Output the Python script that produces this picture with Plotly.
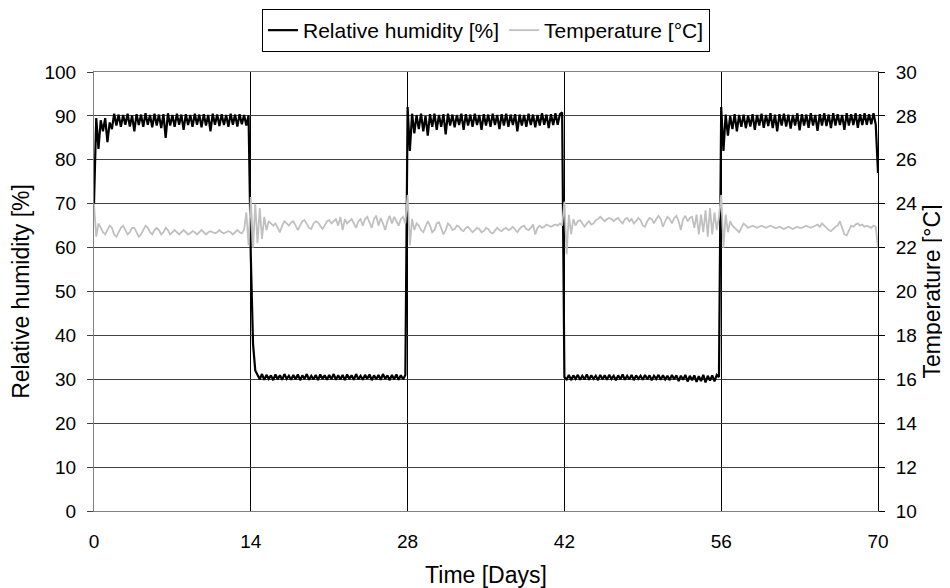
import numpy as np
import plotly.graph_objects as go

# Relative humidity [%], sampled every 0.2 day
rh_seg1 = [70, 89.5, 82.5, 89, 86.5, 89.5, 84, 88.5, 87, 90.5,
           87.8, 90.3, 87.5, 90.2, 88, 90.5, 87.6, 90.1, 86.5, 90.4,
           87.9, 90.3, 87.5, 90.6, 88, 90.2, 87.4, 90.5, 87.8, 90.3,
           87.2, 90.4, 85, 90.6, 87.8, 90.2, 87.5, 90.5, 88, 90.3,
           86.8, 90.4, 87.9, 90.2, 87.5, 90.5, 88, 90.3, 87.4, 90.4,
           87.8, 90.2, 86.5, 90.5, 88, 90.3, 87.7, 90.4, 87.9, 90.2,
           87.5, 90.5, 88, 90.3, 87.6, 90.4, 88.1, 90.2, 87.8, 90.1]
rh_seg2 = [58, 38, 32, 31, 30, 31.2, 29.9, 31, 30.1, 30.9,
           29.8, 31.1, 30, 30.9, 29.9, 31.2, 30.1, 30.8, 29.9, 31,
           30, 31.1, 29.8, 30.9, 30.1, 31.2, 29.9, 30.8, 30, 31,
           29.8, 31.1, 30.1, 30.9, 29.9, 31, 30, 31.2, 29.9, 30.9,
           30, 31, 29.8, 31.1, 30.1, 30.9, 29.9, 31.2, 30, 30.8,
           29.9, 31, 30.1, 31.1, 29.8, 30.9, 30, 31, 29.9, 31.2,
           30.1, 30.9, 29.8, 31, 30, 31.1, 29.9, 30.9, 30, 31]
rh_seg3 = [92, 82, 90.5, 86, 90.2, 87, 90.5, 86.5, 90, 85.5,
           90.4, 87.5, 90.5, 86.8, 90.2, 87.5, 90.4, 85.8, 90.5, 87.8,
           90.3, 87.4, 90.2, 87.9, 90.5, 86.8, 90.4, 87.8, 90.3, 87.5,
           90.5, 87.9, 90.2, 86.8, 90.4, 87.8, 90.3, 87.5, 90.5, 87.9,
           90.2, 87, 90.4, 87.8, 90.5, 87.5, 90.3, 87.9, 90.4, 86.5,
           90.3, 87.8, 90.2, 87.5, 90.5, 87.9, 90.3, 87.4, 90.2, 87.8,
           90.6, 88, 90.3, 87.2, 90.4, 87.9, 90.6, 88, 90.4, 90.8]
rh_seg4 = [30.5, 30, 31, 29.8, 30.9, 30.1, 31, 29.9, 30.8, 30,
           31.1, 29.9, 30.9, 30.1, 30.8, 29.8, 31, 30, 30.9, 29.9,
           31, 30.1, 30.8, 29.8, 30.9, 30, 31.1, 29.9, 30.8, 30,
           31, 29.8, 30.9, 30.1, 30.8, 29.9, 31, 30, 30.9, 29.8,
           30.8, 30.1, 31, 29.9, 30.9, 30, 30.8, 29.8, 31, 30,
           30.9, 29.6, 30.8, 29.9, 31, 29.5, 30.8, 29.8, 30.9, 29.4,
           30.7, 29.6, 31, 29.3, 30.8, 29.7, 30.9, 29.5, 31, 30.5]
rh_seg5 = [92, 82, 90.3, 85.5, 90, 87, 90.4, 86.5, 90.2, 87.5,
           90.3, 87.2, 90.1, 87.6, 90.4, 86.8, 90.2, 87.8, 90.5, 87.3,
           90.2, 87.7, 90.6, 87.2, 90.3, 86.5, 90.4, 87.8, 90.5, 87.6,
           90.3, 87.1, 90.2, 87.8, 90.6, 86.7, 90.4, 87.8, 90.3, 87.3,
           90.6, 87.8, 90.2, 86.6, 90.4, 87.8, 90.6, 87.7, 90.3, 87.2,
           90.6, 87.8, 90.4, 87.9, 90.2, 86.8, 90.6, 87.8, 90.4, 87.9,
           90.6, 87.3, 90.4, 87.9, 90.6, 88, 90.4, 88.1, 90.6, 88, 77]

# Temperature [°C], sampled every 0.2 day
t_seg1 = [24.0, 22.5, 23.1, 22.9, 22.7, 22.6, 22.8, 23.0, 22.9, 22.6,
          22.5, 22.7, 22.9, 23.0, 22.8, 22.6, 22.7, 22.9, 22.9, 22.7,
          22.5, 22.6, 22.8, 23.0, 22.9, 22.7, 22.6, 22.8, 22.9, 22.8,
          22.6, 22.7, 22.9, 22.8, 22.6, 22.7, 22.8, 22.7, 22.6, 22.7,
          22.8, 22.7, 22.6, 22.65, 22.75, 22.7, 22.6, 22.7, 22.8, 22.7,
          22.6, 22.7, 22.75, 22.7, 22.65, 22.7, 22.8, 22.7, 22.65, 22.7,
          22.75, 22.7, 22.6, 22.7, 22.8, 22.7, 22.65, 22.8, 23.6, 22.1]
t_seg2 = [24.3, 22.0, 24.0, 22.2, 23.8, 22.4, 23.4, 22.8, 23.2, 23.1,
          23.0, 23.1, 22.9, 22.7, 23.0, 23.2, 23.1, 23.0, 23.15, 23.2,
          23.0, 22.8, 23.0, 23.2, 23.25, 23.1, 22.9, 22.85, 23.1, 23.2,
          23.15, 23.0, 22.85, 23.0, 23.2, 23.25, 23.1, 23.2, 23.3, 23.0,
          23.4, 22.8, 23.3, 23.1, 23.2, 23.3, 23.1, 22.9, 23.2, 23.3,
          23.0, 23.3, 23.4, 23.1, 22.9, 23.3, 23.45, 23.0, 23.35, 23.1,
          22.8, 23.2, 23.45, 23.1, 23.4, 23.2, 23.0, 23.3, 23.4, 23.1]
t_seg3 = [24.4, 22.1, 23.3, 22.8, 23.1, 23.0, 22.8, 22.7, 23.0, 23.2,
          23.0, 22.7, 22.8, 23.1, 23.15, 22.9, 22.6, 22.8, 23.1, 23.0,
          22.8, 22.85, 23.0, 22.95, 22.8, 22.75, 22.9, 22.95, 22.8, 22.7,
          22.8, 22.9, 22.85, 22.7, 22.75, 22.9, 22.85, 22.7, 22.65, 22.8,
          22.9, 22.8, 22.75, 22.85, 22.9, 22.8, 22.85, 22.95, 22.8, 22.7,
          22.85, 22.95, 23.0, 22.85, 22.8, 22.9, 23.05, 22.6, 22.9, 23.0,
          22.9, 22.95, 23.05, 23.0, 22.95, 23.0, 23.05, 23.0, 23.1, 23.0]
t_seg4 = [24.1, 21.7, 23.5, 22.6, 23.3, 23.0, 23.2, 23.25, 23.1, 22.95,
          23.1, 23.2, 23.05, 23.1, 23.25, 23.3, 23.4, 23.3, 23.2, 23.3,
          23.35, 23.3, 23.2, 23.3, 23.35, 23.2, 23.1, 23.3, 23.35, 23.2,
          23.3, 23.1, 23.2, 23.35, 23.25, 23.0, 22.95, 23.2, 23.35, 23.3,
          23.1, 23.3, 23.45, 23.3, 22.95, 23.2, 23.4, 23.3, 23.1, 23.35,
          23.45, 23.2, 22.8, 23.3, 23.45, 23.2, 23.35, 23.4, 22.9, 23.5,
          22.6, 23.5, 22.7, 23.7, 22.5, 23.8, 22.6, 23.6, 22.8, 23.4]
t_seg5 = [24.4, 22.0, 23.5, 22.7, 23.2, 23.0, 22.9, 22.8, 22.7, 22.9,
          23.1, 23.0, 22.9, 22.95, 23.0, 22.95, 22.9, 22.95, 23.0, 22.95,
          22.9, 22.95, 23.0, 22.95, 22.9, 22.9, 22.95, 22.9, 22.85, 22.9,
          22.95, 22.9, 22.85, 22.9, 22.95, 22.9, 22.9, 22.95, 23.0, 22.95,
          22.9, 22.95, 23.0, 23.05, 22.95, 23.1, 23.0, 22.9, 22.8, 22.75,
          22.85, 22.95, 23.0, 23.2, 22.9, 22.6, 22.55, 22.8, 23.0, 22.95,
          23.05, 23.1, 23.0, 23.05, 22.95, 23.0, 22.95, 22.9, 23.0, 22.95, 22.0]

rh = rh_seg1 + rh_seg2 + rh_seg3 + rh_seg4 + rh_seg5
temp = t_seg1 + t_seg2 + t_seg3 + t_seg4 + t_seg5
step = 0.2
days = np.round(np.arange(len(rh)) * step, 2)

x_ticks = [0, 14, 28, 42, 56, 70]

fig = go.Figure()
fig.add_trace(go.Scatter(x=days, y=rh, mode="lines", name="Relative humidity [%]",
                         line=dict(color="black", width=2.2)))
fig.add_trace(go.Scatter(x=days, y=temp, mode="lines", name="Temperature [°C]",
                         yaxis="y2", line=dict(color="#c0c0c0", width=1.8)))

fnt = dict(family="Liberation Sans, Arial, sans-serif", size=19, color="black")
W, H = 942, 580   # page body adds an 8px offset
fig.update_layout(
    width=W, height=H,
    margin=dict(l=86, r=72, t=64, b=77),
    paper_bgcolor="white", plot_bgcolor="white",
    font=fnt,
    showlegend=True,
    legend=dict(orientation="h", x=0.5, xanchor="center", xref="paper",
                y=1 - 1 / H, yanchor="top", yref="container",
                bordercolor="black", borderwidth=1,
                font=dict(family="Liberation Sans, Arial, sans-serif", size=21, color="black"),
                itemwidth=30, tracegroupgap=0),
    xaxis=dict(range=[0, 70], tickvals=x_ticks, showgrid=True, gridcolor="black",
               gridwidth=1, zeroline=False, showline=True, linecolor="#808080",
               mirror=True, ticks="", automargin=False, ticklabelstandoff=13,
               title=dict(text="Time [Days]", standoff=18)),
    yaxis=dict(range=[0, 100], dtick=10, showgrid=True, gridcolor="#404040",
               gridwidth=1, zeroline=False, showline=True, linecolor="#808080",
               ticks="outside", ticklen=6, tickcolor="#404040", automargin=False,
               ticklabelstandoff=7,
               title=dict(text="Relative humidity [%]", standoff=16)),
    yaxis2=dict(range=[10, 30], dtick=2, overlaying="y", side="right",
                showgrid=False, zeroline=False, showline=True, linecolor="black",
                ticks="outside", ticklen=6, tickcolor="black", automargin=False,
                ticklabelstandoff=7,
                title=dict(text="Temperature [°C]", standoff=7)),
)

fig.write_html("out.html")
